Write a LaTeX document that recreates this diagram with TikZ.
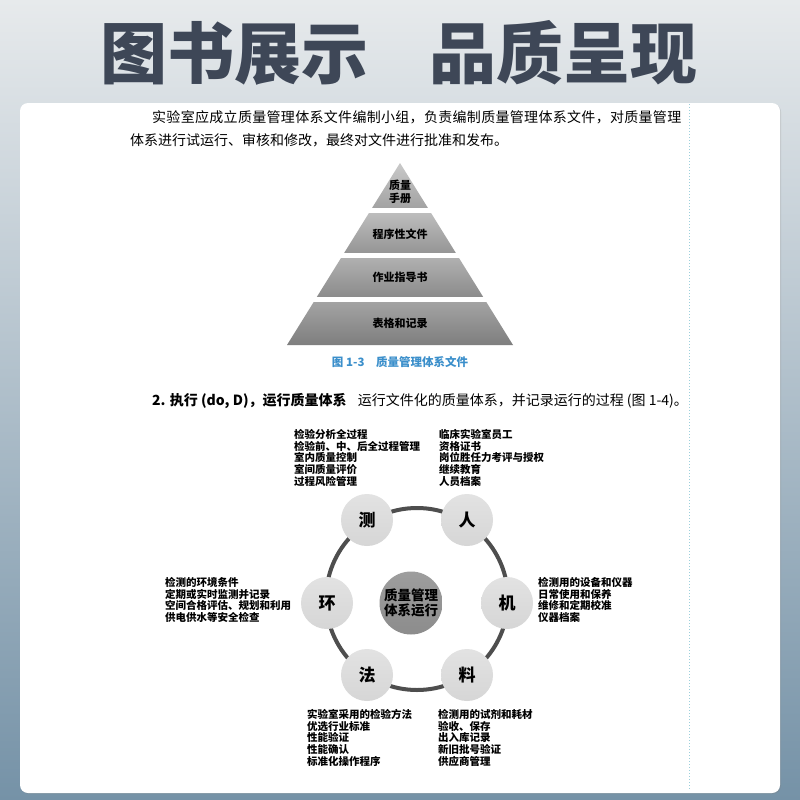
\documentclass[tikz,border=0pt]{standalone}
\usepackage{fontspec}
\newfontfamily\cjk{Noto Sans CJK SC}
\usetikzlibrary{shadows}
\definecolor{hdrgrey}{HTML}{3E4757}
\definecolor{bgtop}{HTML}{E7EAEC}
\definecolor{bgmid}{HTML}{BAC7D1}
\definecolor{bgbot}{HTML}{7592A7}
\definecolor{capblue}{HTML}{3B8FCB}
\definecolor{petalgrey}{HTML}{D6D6D6}
\definecolor{hubgrey}{HTML}{8C8C8C}
\definecolor{ringgrey}{HTML}{4E4E4E}
\definecolor{sepblue}{HTML}{9CCFDB}

\begin{document}
\begin{tikzpicture}[x=1pt,y=-1pt]
	\tikzset{hdr/.style={font=\cjk\bfseries\fontsize{67}{67}\selectfont,text=hdrgrey,inner sep=0},
		para/.style={font=\cjk\fontsize{14}{16}\selectfont,anchor=west,inner sep=0},
		pylab/.style={font=\cjk\bfseries\fontsize{11}{13.5}\selectfont,align=center,inner sep=0},
		figcap/.style={font=\cjk\bfseries\fontsize{11.5}{13}\selectfont,text=capblue,inner sep=0},
		petal/.style={circle,minimum size=52pt,inner sep=0,top color=petalgrey!70!white,bottom color=petalgrey,font=\cjk\bfseries\fontsize{17}{17}\selectfont},
		hub/.style={circle,minimum size=63pt,inner sep=0,top color=hubgrey!85!white,bottom color=hubgrey,align=center,font=\cjk\bfseries\fontsize{13.5}{15.5}\selectfont},
		memo/.style={anchor=north west,align=left,inner sep=0,font=\cjk\bfseries\fontsize{10.5}{11.8}\selectfont},
		ringline/.style={draw=ringgrey,line width=4pt}}
	\useasboundingbox (0,0) rectangle (800,800);
	\shade[top color=bgtop,middle color=bgmid,bottom color=bgbot] (0,0) rectangle (800,800);
	\fill[white,rounded corners=8pt,drop shadow={opacity=0.25,shadow xshift=1pt,shadow yshift=-1pt}] (20,103) rectangle (780,793);
	\coordinate (sepTop) at (689,104);
	\coordinate (sepBot) at (689,790);
	\draw[sepblue,dotted,line width=1pt] (sepTop) -- (sepBot);
	
	\node[hdr] (title) at (399,53) {图书展示\hspace{0.9em}品质呈现};
	
	\node[para] (p1) at (152,117) {\addfontfeature{LetterSpace=2.2}实验室应成立质量管理体系文件编制小组，负责编制质量管理体系文件，对质量管理};
	\node[para] (p2) at (130,140) {体系进行试运行、审核和修改，最终对文件进行批准和发布。};
	
	\begin{scope}
		\clip (400,163) -- (513,345) -- (287,345) -- cycle;
		\foreach \t/\b/\c/\d in {163/207/C9C9C9/A3A3A3, 213/252/BDBDBD/969696, 258/296/B0B0B0/8C8C8C, 302/345/A3A3A3/7E7E7E}{
			\definecolor{bandtop}{HTML}{\c}
			\definecolor{bandbot}{HTML}{\d}
			\shade[top color=bandtop,bottom color=bandbot] (280,\t) rectangle (520,\b);
		}
	\end{scope}
	\node[pylab] (manual) at (400,192) {质量\\手册};
	\node[pylab] (proc) at (400,234) {程序性文件};
	\node[pylab] (instr) at (400,277) {作业指导书};
	\node[pylab] (forms) at (400,323) {表格和记录};
	\node[figcap] (fig13) at (400,362) {图 1-3\hspace{1em}质量管理体系文件};
	
	\node[para] (p3) at (152,401) {\bfseries 2. 执行 (do, D)，运行质量体系\hspace{0.8em}\mdseries 运行文件化的质量体系，并记录运行的过程 (图 1-4)。};
	
	\coordinate (ring) at (417,599);
	\draw[ringline] (ring) circle[radius=91pt];
	\node[hub] (core) at (411,603) {质量管理\\体系运行};
	\node[petal] (ce) at (367,520) {测};
	\node[petal] (ren) at (467,520) {人};
	\node[petal] (huan) at (327,603) {环};
	\node[petal] (ji) at (507,603) {机};
	\node[petal] (fa) at (367,675) {法};
	\node[petal] (liao) at (467,675) {料};
	
	\node[memo] (ceNote) at (294,429) {检验分析全过程\\检验前、中、后全过程管理\\室内质量控制\\室间质量评价\\过程风险管理};
	\node[memo] (renNote) at (439,429) {临床实验室员工\\资格证书\\岗位胜任力考评与授权\\继续教育\\人员档案};
	\node[memo] (huanNote) at (165,577) {检测的环境条件\\定期或实时监测并记录\\空间合格评估、规划和利用\\供电供水等安全检查};
	\node[memo] (jiNote) at (538,577) {检测用的设备和仪器\\日常使用和保养\\维修和定期校准\\仪器档案};
	\node[memo] (faNote) at (307,709) {实验室采用的检验方法\\优选行业标准\\性能验证\\性能确认\\标准化操作程序};
	\node[memo] (liaoNote) at (438,709) {检测用的试剂和耗材\\验收、保存\\出入库记录\\新旧批号验证\\供应商管理};
\end{tikzpicture}
\end{document}
